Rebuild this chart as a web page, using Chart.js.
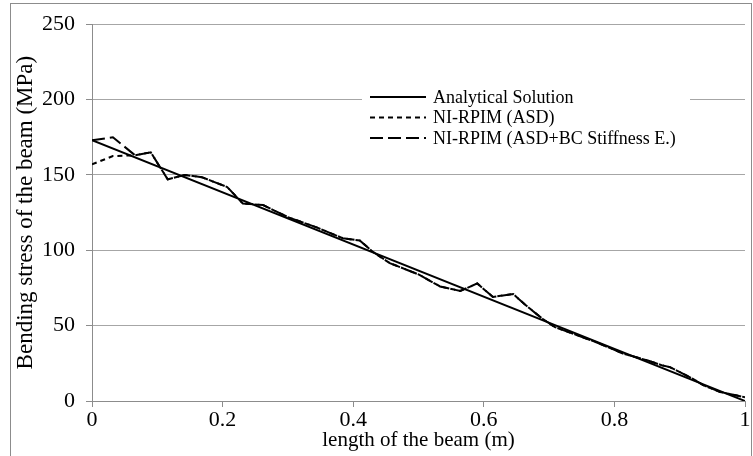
<!DOCTYPE html>
<html>
<head>
<meta charset="utf-8">
<script src="https://cdn.jsdelivr.net/npm/chart.js@4.4.1/dist/chart.umd.min.js"></script>
<style>
  html, body { margin: 0; padding: 0; background: #fff; }
  #frame { position: absolute; left: 10px; top: 3px; width: 740px; height: 470px; border: 1px solid #8c8c8c; }
  #wrap { position: absolute; left: 0; top: 0; width: 753px; height: 456px; }
</style>
</head>
<body>
<div id="frame"></div>
<div id="wrap"><canvas id="chart" width="753" height="456"></canvas></div>
<script>
(function () {
    // x positions (m) and stresses (MPa)
    const analyticalX = [0, 1];
    const analyticalY = [173, 0];

    const asdX = [0, 0.032, 0.066, 0.09, 0.116, 0.142, 0.168, 0.207, 0.231, 0.262, 0.3, 0.345, 0.384, 0.41, 0.43, 0.456, 0.5, 0.533, 0.564, 0.59, 0.614, 0.645, 0.663, 0.69, 0.709, 0.744, 0.775, 0.813, 0.85, 0.874, 0.885, 0.919, 0.936, 0.962, 1];
    const asdY = [157, 162.5, 163, 165, 147, 150, 148.5, 142, 131, 130, 122, 115, 108, 106.5, 99, 91.5, 84, 76, 73, 78, 69, 71, 64, 54.5, 49, 43.5, 38.5, 31.5, 27, 23.5, 22.5, 15, 10.5, 6, 2.5];

    const bcX = asdX;
    const bcY = [173, 175, 163, 165, 147, 150, 148.5, 142, 131, 130, 122, 115, 108, 106.5, 99, 91.5, 84, 76, 73, 78, 69, 71, 64, 54.5, 49, 43.5, 38.5, 31.5, 27, 23.5, 22.5, 15, 10.5, 6, 2.5];

    const seriesNames = ['Analytical Solution', 'NI-RPIM (ASD)', 'NI-RPIM (ASD+BC Stiffness E.)'];
    const yTicks = [0, 50, 100, 150, 200, 250];
    const xTicks = [0, 0.2, 0.4, 0.6, 0.8, 1];

    function pts(xs, ys) { return xs.map(function (x, i) { return { x: x, y: ys[i] }; }); }

    const fam = "'Liberation Serif', 'Times New Roman', serif";
    const dashes = [[], [5, 4], [13, 5]];

    // small legend drawn on canvas, white box over gridline
    const legendBox = {
        id: 'legendBox',
        afterDraw: function (chart) {
            const ctx = chart.ctx;
            const x0 = 370, y0 = 97, dy = 20.5;
            ctx.save();
            ctx.fillStyle = '#fff';
            ctx.fillRect(362, 84, 328, 66);
            ctx.font = '18px ' + fam;
            ctx.textBaseline = 'middle';
            ctx.fillStyle = '#000';
            for (let i = 0; i < 3; i++) {
                const y = y0 + i * dy;
                ctx.beginPath();
                ctx.setLineDash(dashes[i]);
                ctx.lineWidth = 2;
                ctx.strokeStyle = '#000';
                ctx.moveTo(x0, y);
                ctx.lineTo(x0 + 56, y);
                ctx.stroke();
                ctx.setLineDash([]);
                ctx.fillText(seriesNames[i], x0 + 63, y + 1);
            }
            ctx.restore();
        }
    };

    new Chart(document.getElementById('chart'), {
        type: 'scatter',
        data: {
            datasets: [
                { label: seriesNames[0], data: pts(analyticalX, analyticalY), showLine: true, borderColor: '#000', borderWidth: 2, pointRadius: 0 },
                { label: seriesNames[1], data: pts(asdX, asdY), showLine: true, borderColor: '#000', borderWidth: 2, borderDash: dashes[1], pointRadius: 0 },
                { label: seriesNames[2], data: pts(bcX, bcY), showLine: true, borderColor: '#000', borderWidth: 2, borderDash: dashes[2], pointRadius: 0 }
            ]
        },
        options: {
            responsive: false,
            animation: false,
            layout: { padding: { left: 0, right: 8, top: 17, bottom: 0 } },
            plugins: { legend: { display: false }, tooltip: { enabled: false } },
            scales: {
                x: {
                    type: 'linear', min: 0, max: 1,
                    afterBuildTicks: function (axis) { axis.ticks = xTicks.map(function (v) { return { value: v }; }); },
                    afterFit: function (axis) { axis.height = 55; },
                    grid: { display: true, drawOnChartArea: false, drawTicks: true, tickLength: 6, color: '#8c8c8c' },
                    border: { color: '#8c8c8c' },
                    ticks: { color: '#000', font: { family: fam, size: 22 }, padding: 0, maxRotation: 0, callback: function (v) { return String(v); } },
                    title: { display: true, text: 'length of the beam (m)', color: '#000', font: { family: fam, size: 21 }, padding: { top: 0, bottom: 3 } }
                },
                y: {
                    type: 'linear', min: 0, max: 250,
                    afterBuildTicks: function (axis) { axis.ticks = yTicks.map(function (v) { return { value: v }; }); },
                    afterFit: function (axis) { axis.width = 92; },
                    grid: { color: '#a6a6a6', tickLength: 6, tickColor: '#8c8c8c' },
                    border: { color: '#8c8c8c' },
                    ticks: { color: '#000', font: { family: fam, size: 22 }, padding: 11 },
                    title: { display: true, text: 'Bending stress of the beam (MPa)', color: '#000', font: { family: fam, size: 23 }, padding: { top: 12, bottom: 0 } }
                }
            }
        },
        plugins: [legendBox]
    });
})();
</script>
</body>
</html>
